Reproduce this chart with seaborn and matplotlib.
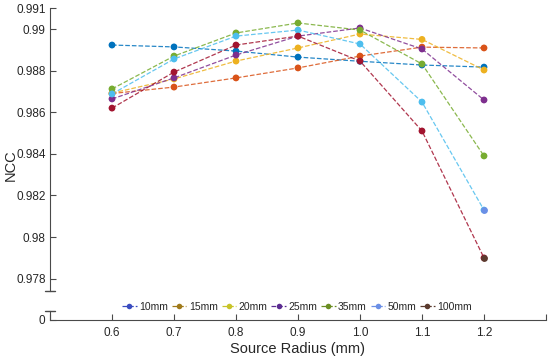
import matplotlib
matplotlib.use("Agg")
import matplotlib.pyplot as plt
from matplotlib.lines import Line2D
import pandas as pd
import seaborn as sns

# data
radius = [0.6, 0.7, 0.8, 0.9, 1.0, 1.1, 1.2]
labels = ["10mm", "15mm", "20mm", "25mm", "35mm", "50mm", "100mm"]
ncc_10 = [0.98923, 0.98914, 0.98894, 0.98865, 0.98845, 0.98827, 0.98817]
ncc_15 = [0.98690, 0.98721, 0.98765, 0.98813, 0.98870, 0.98913, 0.98909]
ncc_20 = [0.98692, 0.98760, 0.98846, 0.98909, 0.98976, 0.98950, 0.98803]
ncc_25 = [0.98664, 0.98765, 0.98875, 0.98966, 0.99005, 0.98904, 0.98659]
ncc_35 = [0.98712, 0.98870, 0.98981, 0.99029, 0.98995, 0.98832, 0.98390]
ncc_50 = [0.98688, 0.98856, 0.98966, 0.98995, 0.98928, 0.98649, 0.98130]
ncc_100 = [0.98620, 0.98793, 0.98923, 0.98966, 0.98846, 0.98510, 0.97900]
series = [ncc_10, ncc_15, ncc_20, ncc_25, ncc_35, ncc_50, ncc_100]

y_ticks = [0.978, 0.980, 0.982, 0.984, 0.986, 0.988, 0.990, 0.991]
y_ticklabels = ["0.978", "0.98", "0.982", "0.984", "0.986", "0.988", "0.99", "0.991"]
x_ticks = [0.5, 0.6, 0.7, 0.8, 0.9, 1.0, 1.1, 1.2, 1.3]
x_ticklabels = ["", "0.6", "0.7", "0.8", "0.9", "1.0", "1.1", "1.2", ""]

line_colors = ["#0072BD", "#D95319", "#EDB120", "#7E2F8E", "#77AC30", "#4DBEEE", "#A2142F"]
legend_colors = ["#3a4cc0", "#a07a1a", "#c8c428", "#5b2c91", "#6b8e23", "#6b8fe6", "#5b3a2e"]

df = pd.DataFrame({
    "radius": radius * len(series),
    "ncc": [v for s in series for v in s],
    "dist": [lab for lab in labels for _ in radius],
})

sns.set_style("ticks")
plt.rcParams["font.family"] = ["Liberation Sans", "DejaVu Sans"]
axis_col = "#4a4a4a"
text_col = "#262626"

fig = plt.figure(figsize=(5.5, 3.6), dpi=100)
ax = fig.add_axes([50 / 550, 69 / 360, 496 / 550, 283 / 360])
ax_lo = fig.add_axes([50 / 550, 40 / 360, 496 / 550, 9 / 360])

sns.lineplot(data=df, x="radius", y="ncc", hue="dist", palette=line_colors,
             linestyle="--", linewidth=0.9, alpha=0.85, legend=False, ax=ax)
sns.scatterplot(data=df, x="radius", y="ncc", hue="dist", palette=line_colors,
                s=24, linewidth=0, legend=False, ax=ax, zorder=3)
# the last two end points are drawn in their legend colour in the reference
for i in (5, 6):
    ax.scatter(radius[-1], series[i][-1], s=24, color=legend_colors[i], lw=0, zorder=4)

ax.set_xlim(0.5, 1.3)
ax.set_ylim(0.97741, 0.99101)
ax.set_yticks(y_ticks)
ax.set_yticklabels(y_ticklabels)
ax.set_xticks([])
ax.set_xlabel("")
ax.set_ylabel("")
for sp in ["top", "right", "bottom"]:
    ax.spines[sp].set_visible(False)
ax.spines["left"].set_color(axis_col)
ax.tick_params(axis="y", direction="in", length=4, color=axis_col,
               labelsize=8.5, labelcolor=text_col, pad=3)
ax.plot([-0.011, 0.011], [0, 0], transform=ax.transAxes, color=axis_col,
        lw=1, clip_on=False)

# lower part of the broken axis
ax_lo.set_xlim(0.5, 1.3)
ax_lo.set_ylim(0, 1)
ax_lo.set_yticks([0])
ax_lo.set_yticklabels(["0"])
ax_lo.set_xticks(x_ticks)
ax_lo.set_xticklabels(x_ticklabels)
for sp in ["top", "right"]:
    ax_lo.spines[sp].set_visible(False)
ax_lo.spines["left"].set_color(axis_col)
ax_lo.spines["bottom"].set_color(axis_col)
ax_lo.tick_params(axis="both", direction="in", length=4, color=axis_col,
                  labelsize=8.5, labelcolor=text_col)
ax_lo.tick_params(axis="x", pad=5)
ax_lo.plot([-0.011, 0.011], [1, 1], transform=ax_lo.transAxes, color=axis_col,
           lw=1, clip_on=False)
ax_lo.set_xlabel("Source Radius (mm)", fontsize=10.5, color=text_col, labelpad=2)

fig.text(11 / 550, 195 / 360, "NCC", rotation=90, ha="center", va="center",
         fontsize=10.5, color=text_col)

handles = [Line2D([0], [0], color=c, ls="--", lw=0.9, marker="o", ms=4, mew=0)
           for c in legend_colors]
fig.legend(handles, labels, loc="center", bbox_to_anchor=(297 / 550, 53 / 360),
           ncol=7, frameon=False, fontsize=7.5, handlelength=1.4,
           handletextpad=0.25, columnspacing=0.35, labelcolor=text_col)

fig.savefig("out.png", dpi=100)
